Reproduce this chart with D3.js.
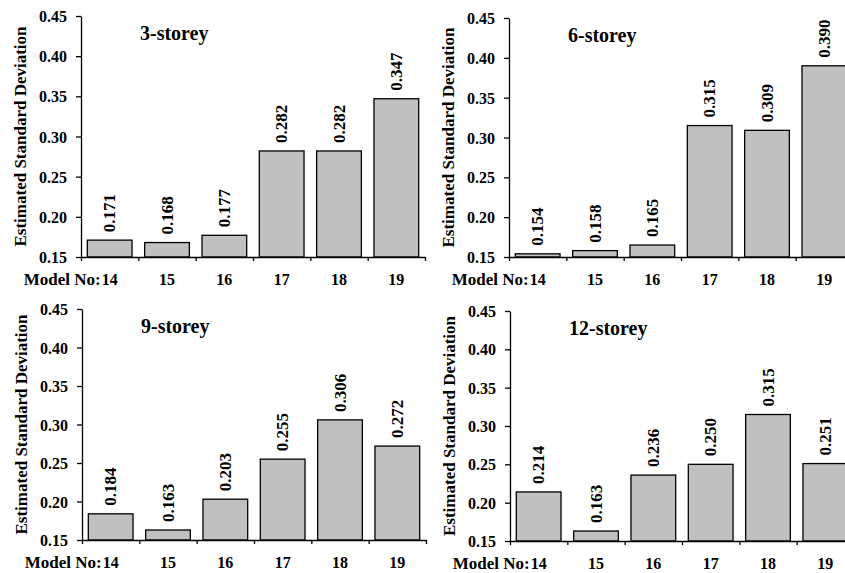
<!DOCTYPE html>
<html>
<head>
  <meta charset="UTF-8">
  <style>
    body { margin: 0; background: #fff; }
  </style>
</head>
<body>
  <svg></svg>
<script src="https://d3js.org/d3.v7.min.js"></script>
<script>

    let width = 845;
    let height = 573;
    let font = "Liberation Serif";

    let svg = d3.select("svg")
        .attr("width", width)
        .attr("height", height);

    // model numbers on the x axis
    let models = ["14", "15", "16", "17", "18", "19"];
    let yTicks = [0.15, 0.20, 0.25, 0.30, 0.35, 0.40, 0.45];

    // estimated standard deviation per building height
    let storey3 = [0.171, 0.168, 0.177, 0.282, 0.282, 0.347];
    let storey6 = [0.154, 0.158, 0.165, 0.315, 0.309, 0.390];
    let storey9 = [0.184, 0.163, 0.203, 0.255, 0.306, 0.272];
    let storey12 = [0.214, 0.163, 0.236, 0.250, 0.315, 0.251];

    let titles = ["3-storey", "6-storey", "9-storey", "12-storey"];

    // where each panel sits
    let panels = [
      {values: storey3, left: 81, top: 16, bottom: 257},
      {values: storey6, left: 509, top: 18, bottom: 257},
      {values: storey9, left: 82, top: 309, bottom: 540},
      {values: storey12, left: 510, top: 311, bottom: 541}
    ];

    let axisLen = 344;

    panels.forEach((p, i) => {
      let g = svg.append("g");

      let x = d3.scaleBand()
        .domain(models)
        .range([p.left, p.left + axisLen])
        .paddingInner(0.22)
        .paddingOuter(0.11);

      let xEdge = d3.scaleLinear()
        .domain([0, models.length])
        .range([p.left, p.left + axisLen]);

      let y = d3.scaleLinear()
        .domain([0.15, 0.45])
        .range([p.bottom, p.top]);

      // bars
      g.selectAll("rect")
        .data(p.values)
        .enter()
        .append("rect")
          .attr("x", (d, j) => x(models[j]))
          .attr("y", d => y(d))
          .attr("width", x.bandwidth())
          .attr("height", d => y(0.15) - y(d))
          .attr("fill", "#c0c0c0")
          .attr("stroke", "#000")
          .attr("stroke-width", 1.3);

      // value labels, rotated
      g.selectAll(".val")
        .data(p.values)
        .enter()
        .append("text")
          .attr("class", "val")
          .attr("transform", (d, j) => "translate(" + (x(models[j]) + x.bandwidth() / 2 + 5.5) + "," + (y(d) - 8) + ") rotate(-90)")
          .attr("font-size", 17)
          .text(d => d.toFixed(3));

      // y axis
      g.append("g")
        .attr("transform", "translate(" + p.left + ",0)")
        .call(d3.axisLeft(y).tickValues(yTicks).tickFormat(d3.format(".2f")).tickSize(5).tickSizeOuter(0).tickPadding(9))
        .selectAll("text")
          .attr("font-size", 16)
          .attr("dy", "0.35em");

      // x axis, ticks sit between the bars
      g.append("g")
        .attr("transform", "translate(0," + p.bottom + ")")
        .call(d3.axisBottom(xEdge).tickValues(d3.range(models.length + 1)).tickFormat("").tickSize(4).tickSizeOuter(0));

      // category labels
      g.selectAll(".cat")
        .data(models)
        .enter()
        .append("text")
          .attr("class", "cat")
          .attr("x", d => x(d) + x.bandwidth() / 2)
          .attr("y", p.bottom + 28)
          .attr("text-anchor", "middle")
          .attr("font-size", 16)
          .text(d => d);

      g.append("text")
        .attr("x", x(models[0]) + x.bandwidth() / 2 - 9)
        .attr("y", p.bottom + 28)
        .attr("text-anchor", "end")
        .attr("font-size", 17)
        .text("Model No:");

      // y axis title
      g.append("text")
        .attr("transform", "translate(" + (p.left - 55) + "," + ((p.top + p.bottom) / 2) + ") rotate(-90)")
        .attr("text-anchor", "middle")
        .attr("font-size", 17)
        .text("Estimated Standard Deviation");

      // panel title
      g.append("text")
        .attr("x", p.left + 59)
        .attr("y", p.top + 24)
        .attr("font-size", 20)
        .text(titles[i]);
    });

    svg.selectAll("path.domain, .tick line")
      .attr("stroke", "#000")
      .attr("stroke-width", 1.3);

    svg.selectAll("text")
      .attr("font-family", font)
      .attr("font-weight", "bold")
      .attr("fill", "#000");

</script>
</body>
</html>
